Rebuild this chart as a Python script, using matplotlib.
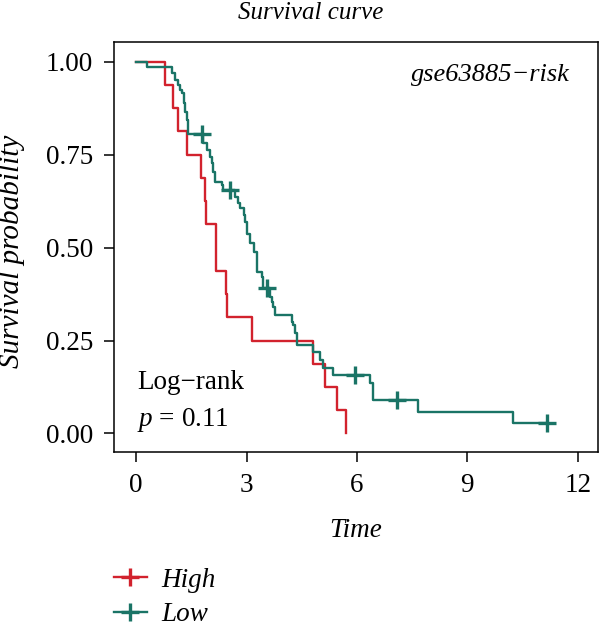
import numpy as np
import matplotlib
matplotlib.use("Agg")
import matplotlib.pyplot as plt
from matplotlib.lines import Line2D

plt.rcParams['font.family'] = ['Liberation Serif', 'DejaVu Serif']
plt.rcParams['mathtext.fontset'] = 'custom'
plt.rcParams['mathtext.rm'] = 'Liberation Serif'
plt.rcParams['mathtext.it'] = 'Liberation Serif:italic'

# Kaplan-Meier steps (time, survival after the step)
high_time = [0, 0.79, 1.01, 1.15, 1.39, 1.77, 1.875, 1.90, 2.17, 2.45, 2.46, 3.14, 4.80, 5.14, 5.45, 5.70]
high_surv = [1.0, 0.9375, 0.875, 0.8125, 0.75, 0.6875, 0.625, 0.5625, 0.4375, 0.375, 0.3125, 0.25, 0.1875, 0.125, 0.0625, 0.0]

low_time = [0, 0.29, 0.97, 1.06, 1.15, 1.20, 1.24, 1.29, 1.33, 1.38, 1.42, 1.83, 1.92, 2.01, 2.06, 2.10,
            2.15, 2.33, 2.37, 2.69, 2.78, 2.83, 2.92, 2.96, 3.01, 3.10, 3.19, 3.28, 3.42, 3.46, 3.64, 3.69,
            3.73, 3.78, 4.23, 4.27, 4.32, 4.37, 4.82, 5.00, 5.09, 5.36, 6.36, 6.43, 7.65, 10.25, 11.16]
low_surv = [1.0, 0.987, 0.969, 0.951, 0.937, 0.924, 0.915, 0.889, 0.866, 0.843, 0.806, 0.781, 0.763, 0.745, 0.728, 0.704,
            0.677, 0.668, 0.655, 0.637, 0.620, 0.606, 0.588, 0.570, 0.538, 0.512, 0.489, 0.435, 0.422, 0.391, 0.368, 0.354,
            0.341, 0.319, 0.301, 0.292, 0.269, 0.238, 0.220, 0.198, 0.175, 0.157, 0.135, 0.090, 0.059, 0.029, 0.029]
low_censor = [1.78, 2.55, 3.55, 5.95, 7.08, 11.16]

groups = ['High', 'Low']
colors = ['#D2222D', '#1A7466']

fig = plt.figure(figsize=(6, 6.33), dpi=100)
ax = fig.add_axes([0.19, 0.2855, 0.8067, 0.648])

ax.step(high_time, high_surv, where='post', color=colors[0], lw=1.7)
ax.step(low_time, low_surv, where='post', color=colors[1], lw=1.7)

# censor marks sit on the step curve
idx = np.searchsorted(low_time, low_censor, side='right') - 1
ax.plot(low_censor, np.array(low_surv)[idx], ls='none', marker='+', ms=13, mew=2.4, color=colors[1])

ax.set_xlim(-0.6, 12.55)
ax.set_ylim(-0.0506, 1.053)
ax.set_xticks([0, 3, 6, 9, 12])
ax.set_yticks([0, 0.25, 0.5, 0.75, 1.0])
ax.set_yticklabels(['0.00', '0.25', '0.50', '0.75', '1.00'])
ax.tick_params(length=7, width=1.1, pad=8, labelsize=19.5, color='black')
for s in ax.spines.values():
    s.set_linewidth(1.1)

ax.set_xlabel('Time', fontsize=19.5, style='italic', va='top')
ax.xaxis.set_label_coords(0.5, -0.16)
ax.set_ylabel('Survival probability', fontsize=21, style='italic')
ax.yaxis.set_label_coords(-0.183, 0.489)

ax.text(0.942, 0.92, 'gse63885\u2212risk', transform=ax.transAxes, ha='right', va='center',
        fontsize=19, style='italic')
ax.text(0.0475, 0.169, 'Log\u2212rank', transform=ax.transAxes, ha='left', va='center', fontsize=19.5)
ax.text(0.0475, 0.079, '$\\mathit{p}$ = 0.11', transform=ax.transAxes, ha='left', va='center', fontsize=19.5)

fig.text(0.518, 0.979, 'Survival curve', ha='center', va='center', fontsize=18, style='italic')

handles = [Line2D([], [], color=c, lw=1.7, marker='+', ms=13, mew=2.4) for c in colors]
fig.legend(handles, groups, loc='upper left', bbox_to_anchor=(0.19, 0.103), frameon=False,
           prop={'size': 19.5, 'style': 'italic'}, handlelength=1.2, handletextpad=0.55,
           labelspacing=0.35, borderpad=0, borderaxespad=0)

fig.savefig('out.png', dpi=100)
